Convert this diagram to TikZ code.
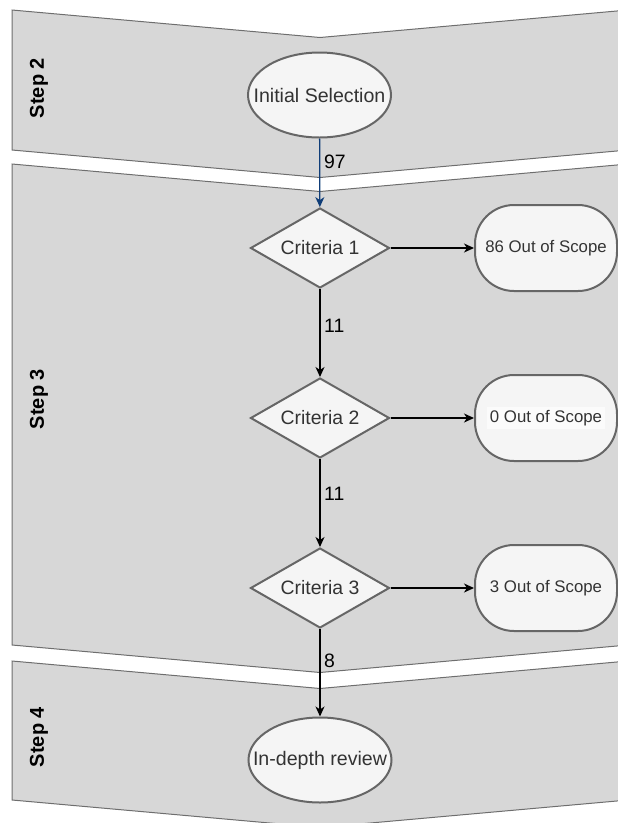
\documentclass[tikz,border=0pt]{standalone}
\usepackage{fontspec}
\setmainfont{Liberation Sans}
\usetikzlibrary{shapes.geometric,arrows.meta}
\definecolor{bandfill}{HTML}{D7D7D7}
\definecolor{bandline}{HTML}{6E6E6E}
\definecolor{nodefill}{HTML}{F5F5F5}
\definecolor{nodeline}{HTML}{666666}
\definecolor{nodetext}{HTML}{333333}
\definecolor{bluearrow}{HTML}{0F3D78}
\tikzset{
  band/.style={fill=bandfill,draw=bandline,line width=1pt},
  steplabel/.style={rotate=90,font=\fontsize{20}{24}\selectfont\bfseries,text=black,inner sep=0pt},
  ellnode/.style={ellipse,draw=nodeline,fill=nodefill,line width=2pt,inner sep=0pt,
    minimum width=143pt,minimum height=85pt,text=nodetext,font=\fontsize{19.6}{22}\selectfont},
  critnode/.style={diamond,draw=nodeline,fill=nodefill,line width=2pt,inner sep=0pt,
    minimum width=139pt,minimum height=80pt,text=nodetext,font=\fontsize{19.4}{22}\selectfont},
  oosnode/.style={rectangle,rounded corners=39pt,draw=nodeline,fill=nodefill,line width=2pt,inner sep=0pt,
    minimum width=142pt,minimum height=86pt,text=nodetext,font=\fontsize{16.8}{20}\selectfont},
  flow/.style={draw=black,line width=1.3pt,-{Stealth[length=10pt,width=9pt,inset=3pt]}},
  blueflow/.style={draw=bluearrow,line width=1.3pt,-{Stealth[length=10pt,width=9pt,inset=3pt]}},
  countlabel/.style={anchor=west,inner sep=0pt,text=black,font=\fontsize{19.4}{22}\selectfont},
}
\begin{document}
\begin{tikzpicture}[x=1pt,y=-1pt]
\useasboundingbox (0,0) rectangle (618,823);
% bands
\path[band] (12,10) -- (320,37.5) -- (628,10) -- (628,150) -- (320,177.5) -- (12,150) -- cycle;
\path[band] (12,164) -- (320,191.5) -- (628,164) -- (628,645) -- (320,672.5) -- (12,645) -- cycle;
\path[band] (12,661) -- (320,688.5) -- (628,661) -- (628,800) -- (320,827.5) -- (12,800) -- cycle;
% step labels
\node[steplabel] (s2) at (39,88) {Step 2};
\node[steplabel] (s3) at (39,399) {Step 3};
\node[steplabel] (s4) at (39,737) {Step 4};
% nodes
\node[ellnode] (init) at (319.5,95) {\makebox[0pt]{Initial Selection}};
\node[critnode] (c1) at (320,248) {\makebox[0pt]{Criteria 1}};
\node[critnode] (c2) at (320,418) {\makebox[0pt]{Criteria 2}};
\node[critnode] (c3) at (320,588) {\makebox[0pt]{Criteria 3}};
\node[oosnode] (o1) at (546,248) {\makebox[0pt]{86 Out of Scope}};
\node[oosnode] (o2) at (546,418) {\makebox[0pt]{\colorbox{white!60!nodefill}{0 Out of Scope}}};
\node[oosnode] (o3) at (546,588) {\makebox[0pt]{3 Out of Scope}};
\node[ellnode] (rev) at (320,760) {\makebox[0pt]{In-depth review}};
% connectors
\draw[blueflow] (init) -- (c1);
\draw[flow] (c1) -- (o1);
\draw[flow] (c2) -- (o2);
\draw[flow] (c3) -- (o3);
\draw[flow] (c1) -- (c2);
\draw[flow] (c2) -- (c3);
\draw[flow] (c3) -- (rev);
% counts
\node[countlabel] (n97) at (324,162) {97};
\node[countlabel] (n11a) at (324,326) {11};
\node[countlabel] (n11b) at (324,494) {11};
\node[countlabel] (n8) at (324,661) {8};
\end{tikzpicture}
\end{document}
